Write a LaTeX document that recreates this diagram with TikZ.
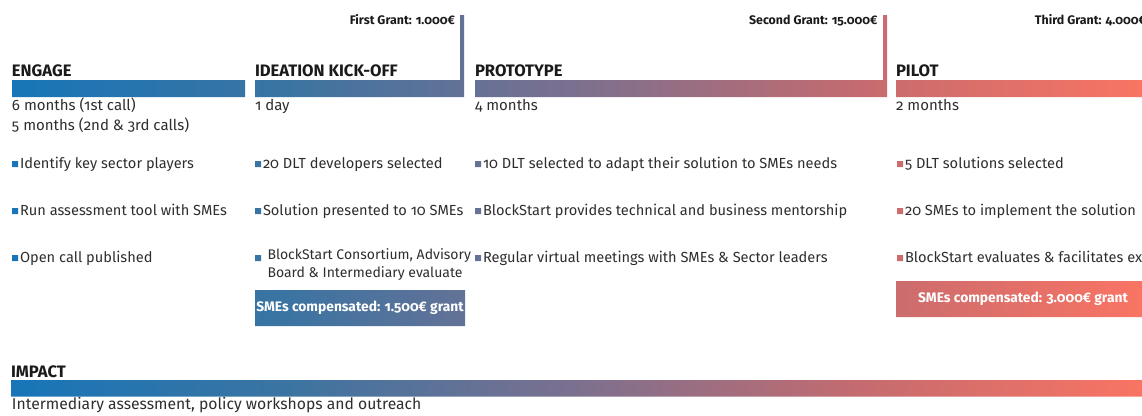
\documentclass[tikz,border=0pt]{standalone}
\usepackage{fontspec}
\setmainfont{Fira Sans}[Numbers=OldStyle]

% colour stops of the programme timeline, blue on the left to coral on the right
\definecolor{tlA}{HTML}{1675B9}
\definecolor{tlB}{HTML}{3C74A1}
\definecolor{tlC}{HTML}{7B7090}
\definecolor{tlD}{HTML}{C56B6F}
\definecolor{tlE}{HTML}{F97463}
\definecolor{ink}{HTML}{2E2E2E}
\definecolor{inkdark}{HTML}{1A1A1A}

% the central 25bp--75bp part spans the whole picture width
\pgfdeclarehorizontalshading{timeline}{100bp}{color(0bp)=(tlA); color(25bp)=(tlA); color(37.7bp)=(tlB); color(50bp)=(tlC); color(62.65bp)=(tlD); color(75bp)=(tlE); color(100bp)=(tlE)}

\tikzset{
  every node/.style={inner sep=0pt, outer sep=0pt},
  band/.style={minimum height=17pt, anchor=north west},
  grantbar/.style={minimum width=4pt, minimum height=82pt, anchor=south east},
  payout/.style={minimum height=36pt, anchor=north west},
  stage/.style={font=\bfseries\fontsize{16.6}{19}\selectfont, text=inkdark, anchor=base west},
  span/.style={font=\fontsize{15}{18}\selectfont, text=ink, anchor=base west},
  item/.style={font=\fontsize{14.6}{18.2}\selectfont, text=ink, anchor=base west, align=left},
  grant/.style={font=\bfseries\fontsize{12.4}{14}\selectfont, text=inkdark, anchor=base east},
  payouttext/.style={font=\bfseries\fontsize{13.8}{16}\selectfont, text=white},
}

\begin{document}
\begin{tikzpicture}[x=1pt, y=-1pt]
\useasboundingbox (0,0) rectangle (1142,415);

% phase bars
\node[band, minimum width=233pt] (engbar)   at (12,80)  {};
\node[band, minimum width=209pt] (ideabar)  at (255,80) {};
\node[band, minimum width=412pt] (protobar) at (475,80) {};
\node[band, minimum width=262pt] (pilotbar) at (896,80) {};
\node[band, minimum width=1140pt, minimum height=16.5pt] (impactbar) at (11,380) {};

% grant markers rising from the end of a phase
\node[grantbar] (grantone) at (ideabar.south east)  {};
\node[grantbar] (granttwo) at (protobar.south east) {};

% compensation boxes
\node[payout, minimum width=210pt] (ideapay)  at (255,290) {};
\node[payout, minimum width=260pt] (pilotpay) at (896,281) {};

% every coloured shape takes its colour from one shared gradient
\begin{scope}
  \clip (engbar.north west) rectangle (engbar.south east)
        (ideabar.north west) rectangle (ideabar.south east)
        (protobar.north west) rectangle (protobar.south east)
        (pilotbar.north west) rectangle (pilotbar.south east)
        (impactbar.north west) rectangle (impactbar.south east)
        (grantone.north west) rectangle (grantone.south east)
        (granttwo.north west) rectangle (granttwo.south east)
        (ideapay.north west) rectangle (ideapay.south east)
        (pilotpay.north west) rectangle (pilotpay.south east)
        \foreach \bx in {12,255,475,897} {
          \foreach \by in {168,215,262} {
            (\bx,\by-7) rectangle (\bx+6,\by-1)
          }
        };
  \shade[shading=timeline] (0,0) rectangle (1142,415);
\end{scope}

% phase titles
\node[stage] (engage)   at (12,76.5)  {ENGAGE};
\node[stage] (ideation) at (255,76.5) {IDEATION KICK-OFF};
\node[stage] (proto)    at (475,76.5) {PROTOTYPE};
\node[stage] (pilot)    at (896,76.5) {PILOT};
\node[stage] (impact)   at (11,377)   {IMPACT};

% grant labels
\node[grant] (grantonetext)   at (455,24)   {First Grant: 1.000€};
\node[grant] (granttwotext)   at (877.5,24) {Second Grant: 15.000€};
\node[grant] (grantthreetext) at (1146,24)  {Third Grant: 4.000€};

% durations
\node[span] (engdur)   at (12,110)   {6 months (1st call)};
\node[span] (engdurb)  at (12,130.5) {5 months (2nd \& 3rd calls)};
\node[span] (ideadur)  at (255,110)  {1 day};
\node[span] (protodur) at (475,110)  {4 months};
\node[span] (pilotdur) at (896,110)  {2 months};

% activities per phase
\node[item] (enga) at (20,168) {Identify key sector players};
\node[item] (engb) at (20,215) {Run assessment tool with SMEs};
\node[item] (engc) at (20,262) {Open call published};

\node[item] (ideaa) at (263,168) {20 DLT developers selected};
\node[item] (ideab) at (263,215) {Solution presented to 10 SMEs};
\node[item, font=\fontsize{14}{18.2}\selectfont] (ideac) at (267.5,277.7) {BlockStart Consortium, Advisory\\Board \& Intermediary evaluate};

\node[item] (protoa) at (483,168) {10 DLT selected to adapt their solution to SMEs needs};
\node[item] (protob) at (483,215) {BlockStart provides technical and business mentorship};
\node[item] (protoc) at (483,262) {Regular virtual meetings with SMEs \& Sector leaders};

\node[item] (pilota) at (905,168) {5 DLT solutions selected};
\node[item] (pilotb) at (905,215) {20 SMEs to implement the solution};
\node[item] (pilotc) at (905,262) {BlockStart evaluates \& facilitates exit};

% compensation texts
\node[payouttext] (ideapaytext)  at (ideapay.center) {SMEs compensated: 1.500€ grant};
\node[payouttext] (pilotpaytext) at (1023,299)       {SMEs compensated: 3.000€ grant};

% impact track
\node[font=\fontsize{15.7}{18}\selectfont, text=ink, anchor=base west] (impactnote) at (12,409) {Intermediary assessment, policy workshops and outreach};
\end{tikzpicture}
\end{document}
